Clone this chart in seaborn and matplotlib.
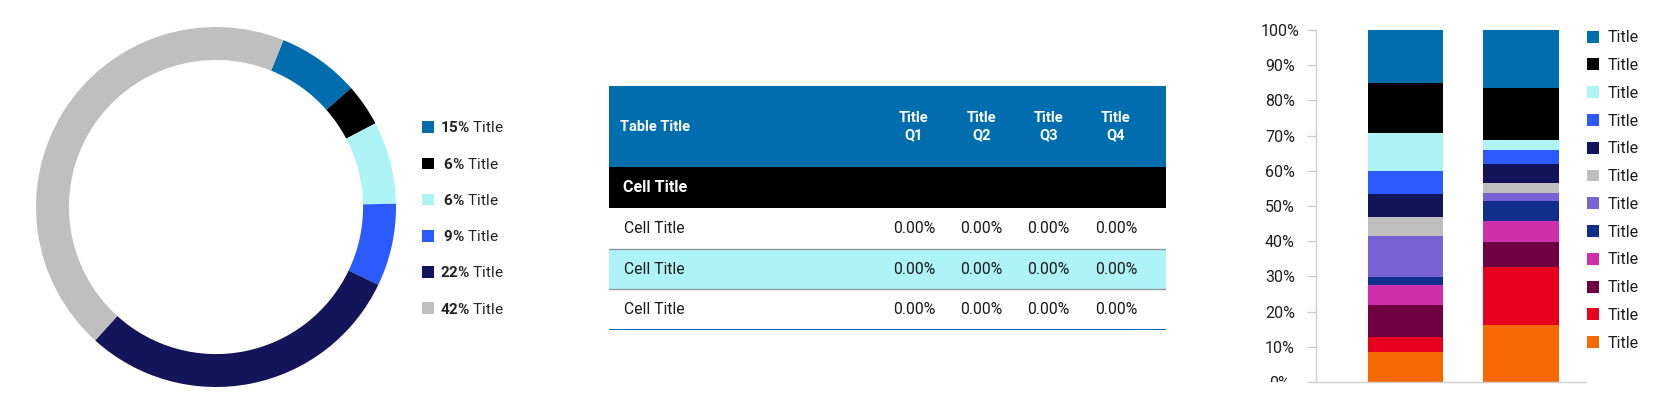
import numpy as np
import pandas as pd
import matplotlib
matplotlib.use("Agg")
import matplotlib.pyplot as plt
import seaborn as sns
from matplotlib.patches import Patch
from matplotlib.transforms import Bbox, TransformedBbox

# ---- donut data ----
donut_share = [7.4, 3.8, 7.4, 7.4, 29.6, 44.4]      # slice sizes as drawn
donut_pct = [15, 6, 6, 9, 22, 42]                    # numbers printed in the legend
donut_names = ["Title"] * 6
donut_colors = ["#006DAE", "#000000", "#AEF4F6", "#2B5BFF", "#13155A", "#BFBFBF"]

# ---- table data ----
table_title = "Table Title"
table_cols = ["Title\nQ1", "Title\nQ2", "Title\nQ3", "Title\nQ4"]
section_title = "Cell Title"
row_labels = ["Cell Title", "Cell Title", "Cell Title"]
row_values = [[0.0, 0.0, 0.0, 0.0],
              [0.0, 0.0, 0.0, 0.0],
              [0.0, 0.0, 0.0, 0.0]]

# ---- stacked bar data (segments listed top -> bottom, same as legend) ----
seg_names = ["Title"] * 12
seg_colors = ["#006DAE", "#000000", "#AEF4F6", "#2B5BFF", "#13155A", "#BFBFBF",
              "#7763D6", "#112F8A", "#CF2FAA", "#6E0041", "#E8001F", "#F66800"]
bar1_vals = [15.1, 14.3, 10.7, 6.5, 6.6, 5.3, 11.6, 2.4, 5.5, 9.3, 4.1, 8.6]
bar2_vals = [16.5, 14.7, 3.0, 4.0, 5.4, 2.6, 2.3, 5.8, 5.8, 7.3, 16.4, 16.2]

W, H = 1667, 417
sns.set_style("white")
plt.rcParams["font.family"] = ["Roboto", "DejaVu Sans"]
plt.rcParams["mathtext.fontset"] = "custom"
plt.rcParams["mathtext.rm"] = "Roboto"
plt.rcParams["mathtext.bf"] = "Roboto:bold"

fig = plt.figure(figsize=(W / 100, H / 100), dpi=100)

# ---------------- donut ----------------
ax_d = fig.add_axes([(216 - 180) / W, (H - 387) / H, 360 / W, 360 / H])
wedges, _ = ax_d.pie(donut_share, colors=donut_colors, startangle=68, counterclock=False,
                     radius=1, wedgeprops=dict(width=0.183, linewidth=0))
ax_d.set_xlim(-1, 1)
ax_d.set_ylim(-1, 1)
ax_d.set_aspect("equal")
labels = [(" " if p < 10 else "") + r"$\mathbf{%d\%%}$ %s" % (p, n)
          for p, n in zip(donut_pct, donut_names)]
ax_d.legend(wedges, labels, loc="center left", bbox_to_anchor=(422 / W, (H - 218.5) / H),
            bbox_transform=fig.transFigure, frameon=False, borderpad=0, borderaxespad=0,
            fontsize=11, handlelength=0.79, handleheight=0.79, handletextpad=0.42,
            labelspacing=1.39, labelcolor="#222222")

# ---------------- table ----------------
ax_t = fig.add_axes([609 / W, (H - 330) / H, 557 / W, 244 / H])
ax_t.set_xlim(0, 557)
ax_t.set_ylim(6, 0)
ax_t.axis("off")
col_x = 305 + 67.3 * np.arange(len(table_cols))

ax_t.axhspan(0, 2, color="#006DAE", lw=0)
ax_t.axhspan(2, 3, color="#000000", lw=0)
for i in range(len(row_labels)):
    y0 = 3 + i
    if i % 2 == 1:
        ax_t.axhspan(y0, y0 + 1, color="#AEF4F6", lw=0)
    if i < len(row_labels) - 1:
        ax_t.axhline(y0 + 1, color="#8C9BA0", lw=1)
ax_t.axhline(6, color="#006DAE", lw=1.5)

ax_t.text(11, 1, table_title, color="white", fontsize=10.5, fontweight="bold", va="center")
for x, c in zip(col_x, table_cols):
    ax_t.text(x, 1, c, color="white", fontsize=10.5, fontweight="bold",
              ha="center", va="center", linespacing=1.3)
ax_t.text(14, 2.5, section_title, color="white", fontsize=11.5, fontweight="bold", va="center")
for i, (lab, vals) in enumerate(zip(row_labels, row_values)):
    y = 3.5 + i
    ax_t.text(15, y, lab, color="#1A1A1A", fontsize=11.3, va="center")
    for x, v in zip(col_x, vals):
        ax_t.text(x, y, f"{v:.2f}%", color="#1A1A1A", fontsize=11.3, ha="center", va="center")

# ---------------- stacked bars ----------------
ax_b = fig.add_axes([1316 / W, (H - 382) / H, 270 / W, 352 / H])
groups = ["Bar 1", "Bar 2"]
for i, c in enumerate(seg_colors):
    tops = [sum(bar1_vals[i:]), sum(bar2_vals[i:])]
    df = pd.DataFrame({"group": groups, "value": tops})
    sns.barplot(data=df, x="group", y="value", color=c, width=0.65, saturation=1,
                errorbar=None, linewidth=0, ax=ax_b)

ax_b.set_xlim(-0.775, 1.563)
ax_b.set_ylim(0, 100)
ax_b.set_xlabel("")
ax_b.set_ylabel("")
ax_b.set_xticks([])
yt = np.arange(0, 101, 10)
ax_b.set_yticks(yt)
ax_b.set_yticklabels([f"{v}%" for v in yt], ha="center", color="#1E1E1E", fontsize=11.5)
ax_b.tick_params(axis="y", length=6.5, width=1, color="#CFCFCF", pad=19.5, left=True)
sns.despine(ax=ax_b)
for s in ("left", "bottom"):
    ax_b.spines[s].set_color("#CFCFCF")
    ax_b.spines[s].set_linewidth(1)

handles = [Patch(facecolor=c, edgecolor="none") for c in seg_colors]
ax_b.legend(handles, seg_names, loc="upper left", bbox_to_anchor=(1587 / W, (H - 30.2) / H),
            bbox_transform=fig.transFigure, frameon=False, borderpad=0, borderaxespad=0,
            fontsize=11.5, handlelength=0.77, handleheight=0.77, handletextpad=0.5,
            labelspacing=0.80, labelcolor="#1E1E1E")

# the 0% label is cut off at the baseline in the original
fig.canvas.draw()
lab0 = ax_b.get_yticklabels()[0]
lab0.set_clip_on(True)
lab0.set_clip_box(TransformedBbox(Bbox.from_extents(-1, 0, 1, 1), ax_b.transAxes))

fig.savefig("out.png", dpi=100)
